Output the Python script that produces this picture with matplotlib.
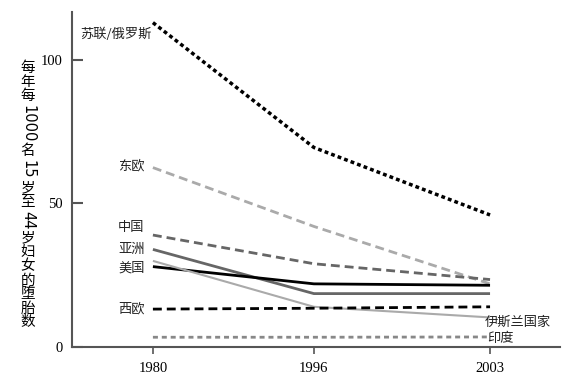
import matplotlib
matplotlib.use('Agg')
import matplotlib.pyplot as plt

plt.rcParams['font.family'] = ['Noto Sans CJK SC', 'DejaVu Sans']

years = ['1980', '1996', '2003']
ussr = [113, 69.5, 46]
east_eu = [62.5, 42, 22]
china = [39, 29, 23.5]
asia = [34, 18.6, 18.6]
usa = [28, 22, 21.5]
islamic = [30, 14, 10.3]
west_eu = [13.2, 13.5, 14]
india = [3.4, 3.4, 3.5]
left_names = ['苏联/俄罗斯', '东欧', '中国', '亚洲', '美国', '西欧']
right_names = ['伊斯兰国家', '印度']
ylabel = '每年每1000名15岁至44岁妇女的堕胎数'

# layout / style
xpos = [0, 0.955, 2]
series = [ussr, east_eu, china, asia, usa, islamic, west_eu, india]
styles = [
    dict(color='black', lw=2.5, dashes=(1.1, 0.9)),
    dict(color='#aaaaaa', lw=2, dashes=(3.2, 1.8)),
    dict(color='#666666', lw=2, dashes=(3.2, 1.8)),
    dict(color='#666666', lw=2),
    dict(color='black', lw=2),
    dict(color='#aaaaaa', lw=1.5),
    dict(color='black', lw=2, dashes=(3.2, 1.8)),
    dict(color='#888888', lw=2, dashes=(1.8, 1.4)),
]
left_label_y = [109, 63, 41.5, 34, 27.5, 13.3]
right_label_y = [8.6, 3.0]

fig = plt.figure(figsize=(5.66, 3.75), dpi=100)
ax = fig.add_axes([72 / 566, 1 - 347 / 375, 488 / 566, 335 / 375])

for vals, st in zip(series, styles):
    ax.plot(xpos, vals, solid_capstyle='butt', dash_capstyle='butt', **st)

for name, ly in zip(left_names, left_label_y):
    ax.annotate(name, xy=(xpos[0], ly), xytext=(-6 if name != '苏联/俄罗斯' else -1, 0),
                textcoords='offset points', ha='right', va='center', fontsize=9.5, color='#222222')

for name, ly, dx in zip(right_names, right_label_y, [-4, -2]):
    ax.annotate(name, xy=(xpos[2], ly), xytext=(dx, 0), textcoords='offset points',
                ha='left', va='center', fontsize=9.5, color='#222222')

ax.set_xlim(-0.48, 2.415)
ax.set_ylim(0, 116.7)
ax.set_xticks(xpos)
ax.set_xticklabels(years, fontfamily='Liberation Serif', fontsize=10.5)
ax.set_yticks([0, 50, 100])
ax.set_yticklabels(['0', '50', '100'], fontfamily='Liberation Serif', fontsize=10.5)
for s in ['top', 'right']:
    ax.spines[s].set_visible(False)
for s in ['left', 'bottom']:
    ax.spines[s].set_color('#555555')
    ax.spines[s].set_linewidth(1.5)
ax.tick_params(axis='y', direction='in', length=8, width=1.5, color='#555555', pad=7)
ax.tick_params(axis='x', direction='out', length=5, width=1.2, color='#555555', pad=6)

# vertical y label: CJK upright, digits rotated
fig.canvas.draw()
renderer = fig.canvas.get_renderer()
segs = []
buf = ''
for ch in ylabel:
    if ch.isdigit():
        buf += ch
    else:
        if buf:
            segs.append(buf)
            buf = ''
        segs.append(ch)
if buf:
    segs.append(buf)

cx = 28 / 566
cur = 375 - 61
for seg in segs:
    if seg.isdigit():
        cur -= 2
        t = fig.text(cx, cur / 375, seg, rotation=270, ha='center', va='top', fontsize=10.5,
                     family=['DejaVu Sans'])
        cur -= t.get_window_extent(renderer).height + 2
    else:
        fig.text(cx, cur / 375, seg, ha='center', va='top', fontsize=10.5)
        cur -= 14

fig.savefig('out.png', dpi=100)
